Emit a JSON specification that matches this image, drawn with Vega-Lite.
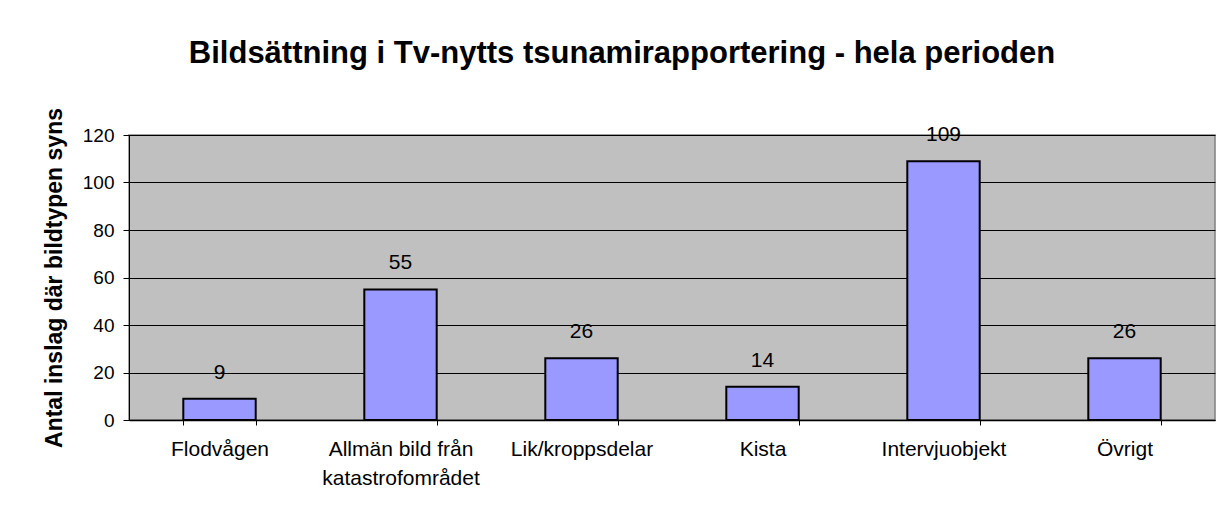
{
  "$schema": "https://vega.github.io/schema/vega-lite/v6.json",
  "autosize": {"type": "none"},
  "width": 1086,
  "height": 285,
  "padding": {"left": 129, "top": 135, "right": 16, "bottom": 96},
  "background": "white",
  "title": {
    "text": "Bildsättning i Tv-nytts tsunamirapportering - hela perioden",
    "font": "Liberation Sans",
    "fontSize": 31,
    "fontWeight": "bold",
    "color": "black",
    "anchor": "middle",
    "frame": "group",
    "baseline": "alphabetic",
    "dx": -50,
    "offset": 14
  },
  "config": {
    "view": {"fill": "#C0C0C0", "stroke": "#808080", "strokeWidth": 1.5},
    "font": "Liberation Sans"
  },
  "data": {
    "values": [
      {"kategori": "Flodvågen", "antal": 9},
      {"kategori": "Allmän bild från katastrofområdet", "antal": 55},
      {"kategori": "Lik/kroppsdelar", "antal": 26},
      {"kategori": "Kista", "antal": 14},
      {"kategori": "Intervjuobjekt", "antal": 109},
      {"kategori": "Övrigt", "antal": 26}
    ]
  },
  "encoding": {
    "x": {
      "field": "kategori",
      "type": "nominal",
      "sort": null,
      "scale": {"paddingInner": 0.6, "paddingOuter": 0.3},
      "axis": {
        "title": null,
        "labelAngle": 0,
        "labelFont": "Liberation Sans",
        "labelFontSize": 21,
        "labelColor": "black",
        "labelPadding": 13,
        "labelLineHeight": 29,
        "labelExpr": "datum.label == 'Allmän bild från katastrofområdet' ? ['Allmän bild från', 'katastrofområdet'] : datum.label",
        "tickBand": "extent",
        "tickSize": 5,
        "tickColor": "black",
        "domainColor": "black",
        "domainWidth": 1.5,
        "grid": false
      }
    },
    "y": {
      "field": "antal",
      "type": "quantitative",
      "scale": {"domain": [0, 120], "nice": false},
      "axis": {
        "title": "Antal inslag där bildtypen syns",
        "titleFont": "Liberation Sans",
        "titleFontSize": 23,
        "titleFontWeight": "bold",
        "titleColor": "black",
        "titlePadding": 16,
        "values": [0, 20, 40, 60, 80, 100, 120],
        "labelFont": "Liberation Sans",
        "labelFontSize": 19,
        "labelColor": "black",
        "labelPadding": 9,
        "tickSize": 6,
        "tickColor": "black",
        "domainColor": "black",
        "grid": true,
        "gridColor": "black",
        "gridWidth": 1,
        "gridOpacity": 1
      }
    }
  },
  "layer": [
    {
      "mark": {"type": "bar", "color": "#9999FF", "stroke": "black", "strokeWidth": 2}
    },
    {
      "mark": {"type": "text", "baseline": "alphabetic", "dy": -20, "fontSize": 21, "font": "Liberation Sans", "color": "black"},
      "encoding": {"text": {"field": "antal", "type": "quantitative"}}
    }
  ]
}
